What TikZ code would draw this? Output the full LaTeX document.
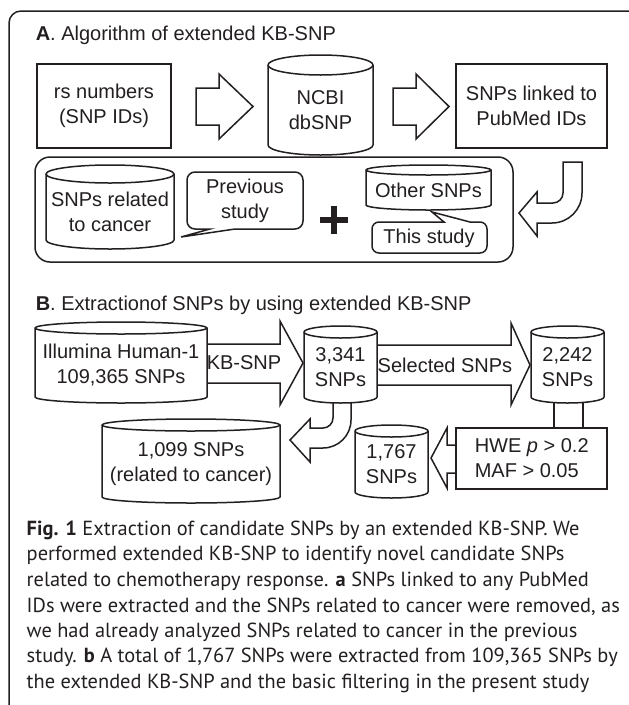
\documentclass[tikz,border=0pt]{standalone}
\usepackage{fontspec}
\setmainfont{Liberation Sans}
\newfontfamily\capfont{PT Sans}
\definecolor{ink}{HTML}{231F20}
\newcommand\dbcyl[7]{% name, left, top, right, bottom, ry, text
  \pgfmathsetmacro\cylcx{(#2+#4)/2}%
  \pgfmathsetmacro\cylrx{(#4-#2)/2}%
  \pgfmathsetmacro\cylcy{-(#3+#5+#6)/2}%
  \draw[fill=white] (#2,-#3-#6) -- (#2,-#5+#6)
     arc[start angle=180,end angle=360,x radius=\cylrx,y radius=#6]
     -- (#4,-#3-#6)
     arc[start angle=0,end angle=180,x radius=\cylrx,y radius=#6] -- cycle;
  \draw (#2,-#3-#6) arc[start angle=180,end angle=360,x radius=\cylrx,y radius=#6];
  \node[lbl] (#1) at (\cylcx,\cylcy) {#7};
}
\begin{document}
\begin{tikzpicture}[x=1pt,y=1pt,line width=1.5pt,draw=ink,
  lbl/.style={font=\fontsize{20}{25}\selectfont,align=center,inner sep=0pt,text=ink},
  boxn/.style={draw,fill=white,inner sep=0pt,font=\fontsize{20}{25}\selectfont,align=center,text=ink},
  ttl/.style={font=\fontsize{20}{24}\selectfont,anchor=west,inner sep=0pt,text=ink},
  capline/.style={font=\capfont\fontsize{20.4}{25}\selectfont,anchor=west,inner sep=0pt,text=ink},
  blk/.style={draw,fill=white}]
\useasboundingbox (0,0) rectangle (629,-705);
\begin{scope}
  \clip (0,0) rectangle (629,-705);
  \draw[rounded corners=12] (9,-760) rectangle (650,-11);
\end{scope}

% ---------- Panel A ----------
\node[ttl] (tA) at (35,-35) {\textbf{A}. Algorithm of extended KB-SNP};
\node[boxn,minimum width=134,minimum height=84] (rs) at (104,-106) {rs numbers\\(SNP IDs)};
\draw[blk] (196,-88) -- (219,-88) -- (219,-74) -- (253,-106.5) -- (219,-139) -- (219,-125) -- (196,-125) -- cycle;
\dbcyl{ncbi}{268}{55}{373}{155}{10}{NCBI\\dbSNP}
\draw[blk] (393,-88) -- (416,-88) -- (416,-74) -- (449,-106.5) -- (416,-139) -- (416,-125) -- (393,-125) -- cycle;
\node[boxn,minimum width=151,minimum height=84] (pub) at (531.5,-106) {SNPs linked to\\PubMed IDs};

% hook arrow
\draw[blk] (563,-162) -- (563,-193) arc[start angle=0,end angle=-90,radius=10]
  -- (537,-203) -- (537,-192) -- (519,-213) -- (537,-236) -- (537,-223) -- (552,-223)
  arc[start angle=270,end angle=360,radius=30] -- (582,-162) -- cycle;

% container
\draw[rounded corners=15] (35,-157) rectangle (513,-262);
\dbcyl{rel}{46}{165}{174}{249}{9}{SNPs related\\to cancer}
% callout previous study
\draw[fill=white] (235,-229) -- (295,-229) arc[start angle=-90,end angle=0,radius=8]
  -- (303,-180) arc[start angle=0,end angle=90,radius=8]
  -- (195,-172) arc[start angle=90,end angle=180,radius=8]
  -- (187,-221) arc[start angle=180,end angle=270,radius=8]
  -- (210,-229) -- (181,-237) -- cycle;
\node[lbl] (prev) at (245,-201) {Previous\\study};
% plus
\draw[line width=6.5pt] (320,-220) -- (348,-220) (334,-206) -- (334,-234);
\dbcyl{oth}{366}{165}{491}{210}{5}{Other SNPs}
% callout this study
\draw[fill=white] (470,-222) -- (480,-222) arc[start angle=90,end angle=0,radius=7]
  -- (487,-246) arc[start angle=0,end angle=-90,radius=7]
  -- (379,-253) arc[start angle=270,end angle=180,radius=7]
  -- (372,-229) arc[start angle=180,end angle=90,radius=7]
  -- (444,-222) -- (432,-212) -- cycle;
\node[lbl] (this) at (429,-238) {This study};

% ---------- Panel B ----------
\node[ttl] (tB) at (35,-305) {\textbf{B}. Extractionof SNPs by using extended KB-SNP};
\draw[blk] (207,-344) -- (280,-344) -- (280,-321) -- (303,-363) -- (280,-405) -- (280,-383) -- (207,-383) -- cycle;
\node[lbl] (kb) at (244,-363) {KB-SNP};
\dbcyl{ill}{35}{322}{207}{403}{6}{Illumina Human-1\\109,365 SNPs}
\draw[blk] (377,-345) -- (511,-345) -- (511,-323) -- (530,-365) -- (511,-405) -- (511,-385) -- (377,-385) -- cycle;
\node[lbl] (sel) at (445,-365) {Selected SNPs};
% curved arrow from 3,341 down to 1,099
\draw[blk] (333,-396) -- (333,-418) arc[start angle=0,end angle=-90,radius=10]
  -- (310,-428) -- (310,-419) -- (290,-440) -- (310,-462) -- (310,-448) -- (323,-448)
  arc[start angle=270,end angle=360,radius=28] -- (351,-396) -- cycle;
\dbcyl{c3341}{304}{326}{377}{403}{6}{3,341\\SNPs}
\draw (554,-398) -- (554,-428) (583,-398) -- (583,-428);
\dbcyl{c2242}{531}{326}{604}{403}{6}{2,242\\SNPs}
\draw[blk] (456,-445) -- (447,-445) -- (447,-428) -- (431,-458) -- (447,-488) -- (447,-473) -- (456,-473);
\node[draw,fill=white,minimum width=151,minimum height=61,inner sep=0pt] (hwe) at (531.5,-458.5) {};
\node[lbl,align=left,anchor=west] (hwet) at (474,-458.5) {HWE \textit{p} > 0.2\\MAF > 0.05};
\dbcyl{c1767}{355}{425}{428}{498}{6}{1,767\\SNPs}
\dbcyl{c1099}{102}{419}{280}{503}{6}{1,099 SNPs\\(related to cancer)}

% ---------- caption ----------
\node[capline] (l1) at (26,-530) {\textbf{Fig. 1} Extraction of candidate SNPs by an extended KB-SNP. We};
\node[capline] (l2) at (26,-555.5) {performed extended KB-SNP to identify novel candidate SNPs};
\node[capline] (l3) at (26,-581) {related to chemotherapy response. \textbf{a} SNPs linked to any PubMed};
\node[capline] (l4) at (26,-606.5) {IDs were extracted and the SNPs related to cancer were removed, as};
\node[capline] (l5) at (26,-632) {we had already analyzed SNPs related to cancer in the previous};
\node[capline] (l6) at (26,-657.5) {study. \textbf{b} A total of 1,767 SNPs were extracted from 109,365 SNPs by};
\node[capline] (l7) at (26,-683) {the extended KB-SNP and the basic filtering in the present study};
\end{tikzpicture}
\end{document}
